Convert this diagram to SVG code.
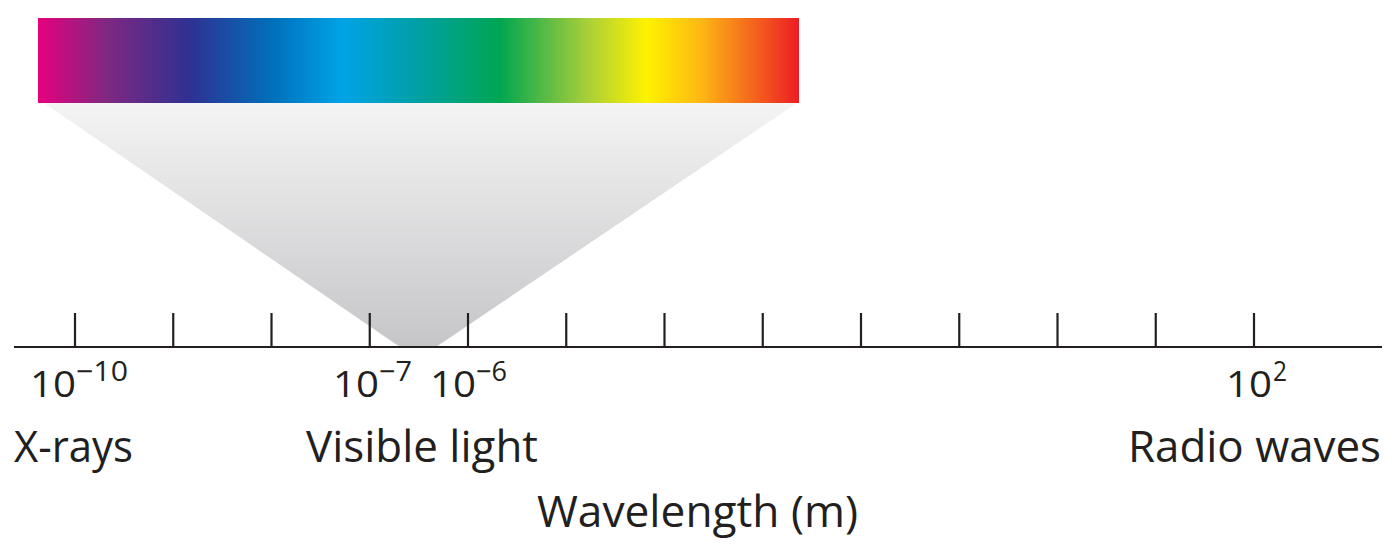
<svg xmlns="http://www.w3.org/2000/svg" width="1400" height="560" viewBox="0 0 1400 560">
<defs>
<linearGradient id="spec" x1="0" y1="0" x2="1" y2="0">
<stop offset="0" stop-color="#e6007e"/>
<stop offset="0.09" stop-color="#7f2882"/>
<stop offset="0.2" stop-color="#2e3192"/>
<stop offset="0.31" stop-color="#0071bc"/>
<stop offset="0.4" stop-color="#00a3e6"/>
<stop offset="0.5" stop-color="#00a0a4"/>
<stop offset="0.607" stop-color="#00a651"/>
<stop offset="0.72" stop-color="#a6ce39"/>
<stop offset="0.8" stop-color="#fff200"/>
<stop offset="0.87" stop-color="#fdb913"/>
<stop offset="1" stop-color="#ed1c24"/>
</linearGradient>
<linearGradient id="cone" x1="0" y1="0" x2="0" y2="1">
<stop offset="0" stop-color="#f4f4f4"/>
<stop offset="1" stop-color="#c6c6c9"/>
</linearGradient>
</defs>
<style>
.t{font-family:"Open Sans","Liberation Sans",sans-serif;fill:#231f20}
.lab{font-size:44px}
.num{font-size:37px}
.sup{font-size:27px}
.tick{stroke:#231f20;stroke-width:2.2}
</style>
<rect width="1400" height="560" fill="#ffffff"/>
<g id="cone-shape">
<polygon points="44,103 797,103 436,347 400,347" fill="url(#cone)"/>
</g>
<g id="spectrum">
<rect x="38" y="18" width="761" height="85" fill="url(#spec)"/>
</g>
<g id="axis">
<line x1="14" y1="347" x2="1382" y2="347" class="tick" stroke-width="2.6"/>
<line class="tick" x1="75" y1="313" x2="75" y2="347"/>
<line class="tick" x1="173.25" y1="313" x2="173.25" y2="347"/>
<line class="tick" x1="271.5" y1="313" x2="271.5" y2="347"/>
<line class="tick" x1="369.75" y1="313" x2="369.75" y2="347"/>
<line class="tick" x1="468" y1="313" x2="468" y2="347"/>
<line class="tick" x1="566.25" y1="313" x2="566.25" y2="347"/>
<line class="tick" x1="664.5" y1="313" x2="664.5" y2="347"/>
<line class="tick" x1="762.75" y1="313" x2="762.75" y2="347"/>
<line class="tick" x1="861" y1="313" x2="861" y2="347"/>
<line class="tick" x1="959.25" y1="313" x2="959.25" y2="347"/>
<line class="tick" x1="1057.5" y1="313" x2="1057.5" y2="347"/>
<line class="tick" x1="1155.75" y1="313" x2="1155.75" y2="347"/>
<line class="tick" x1="1254" y1="313" x2="1254" y2="347"/>
</g>
<g id="tick-labels">
<text class="t num" x="30" y="397" textLength="46" lengthAdjust="spacingAndGlyphs">10</text>
<text class="t sup" x="76" y="381" textLength="52" lengthAdjust="spacingAndGlyphs">−10</text>
<text class="t num" x="333" y="397" textLength="46" lengthAdjust="spacingAndGlyphs">10</text>
<text class="t sup" x="379" y="381" textLength="33" lengthAdjust="spacingAndGlyphs">−7</text>
<text class="t num" x="430" y="397" textLength="46" lengthAdjust="spacingAndGlyphs">10</text>
<text class="t sup" x="476" y="381" textLength="31" lengthAdjust="spacingAndGlyphs">−6</text>
<text class="t num" x="1226" y="397" textLength="46" lengthAdjust="spacingAndGlyphs">10</text>
<text class="t sup" x="1273" y="381" textLength="14" lengthAdjust="spacingAndGlyphs">2</text>
</g>
<g id="labels">
<text class="t lab" x="14" y="462" textLength="119" lengthAdjust="spacingAndGlyphs">X-rays</text>
<text class="t lab" x="306" y="462" textLength="232" lengthAdjust="spacingAndGlyphs">Visible light</text>
<text class="t lab" x="1128" y="462" textLength="253" lengthAdjust="spacingAndGlyphs">Radio waves</text>
<text class="t lab" x="537" y="527" textLength="321" lengthAdjust="spacingAndGlyphs">Wavelength (m)</text>
</g>
</svg>
